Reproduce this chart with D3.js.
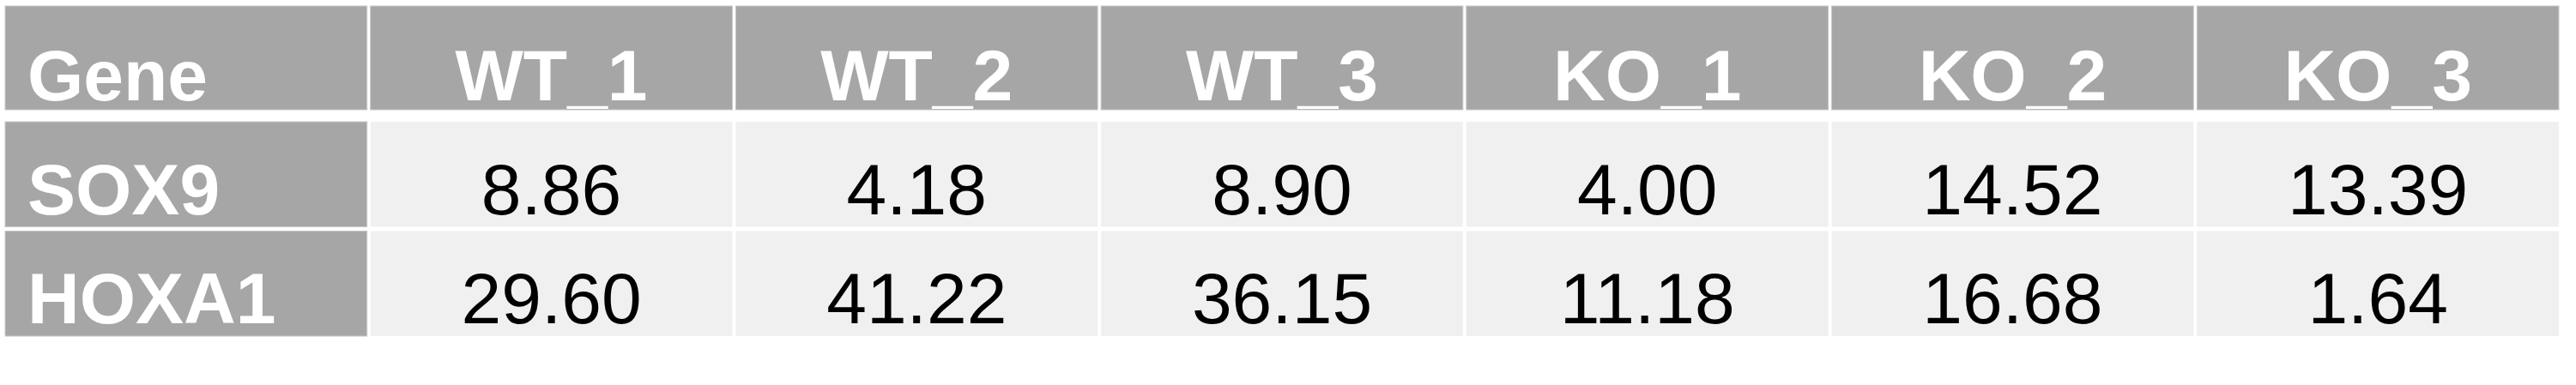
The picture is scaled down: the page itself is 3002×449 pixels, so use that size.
<!DOCTYPE html>
<html>
<head>
<meta charset="utf-8">
<script src="https://cdn.jsdelivr.net/npm/d3@7"></script>
<style>
  body { margin: 0; background: #fff; }
  text { font-family: "Liberation Sans", Arial, sans-serif; }
</style>
</head>
<body>
<svg id="chart"></svg>
<script>
const WIDTH = 3002;
const HEIGHT = 449;

// Table contents.
const headers = ['Gene', 'WT_1', 'WT_2', 'WT_3', 'KO_1', 'KO_2', 'KO_3'];
const genes = ['SOX9', 'HOXA1'];
const sox9Values = ['8.86', '4.18', '8.90', '4.00', '14.52', '13.39'];
const hoxa1Values = ['29.60', '41.22', '36.15', '11.18', '16.68', '1.64'];

const values = [sox9Values, hoxa1Values];

const HEADER_FILL = '#a6a6a6';
const CELL_FILL = '#f0f0f0';
const GAP = 4;

const svg = d3.select('#chart').attr('width', WIDTH).attr('height', HEIGHT);

// Columns across the whole table.
const xScale = d3.scaleBand()
  .domain(headers)
  .range([6, 2986])
  .paddingInner(0);

const colW = xScale.bandwidth() - GAP;

// Header row, then the gene rows.
const headerTop = 7, headerBottom = 128;
const yScale = d3.scaleBand()
  .domain(genes)
  .range([142, 397]);
const rowH = yScale.bandwidth() - 5;

// Header cells.
const head = svg.append('g').attr('class', 'header');
head.selectAll('rect')
  .data(headers)
  .join('rect')
  .attr('x', d => xScale(d))
  .attr('y', headerTop)
  .attr('width', colW)
  .attr('height', headerBottom - headerTop)
  .attr('fill', HEADER_FILL)
  .attr('stroke', '#c8c8c8')
  .attr('stroke-width', 1);

head.selectAll('text')
  .data(headers)
  .join('text')
  .attr('x', (d, i) => i === 0 ? xScale(d) + 26 : xScale(d) + colW / 2)
  .attr('y', 117)
  .attr('text-anchor', (d, i) => i === 0 ? 'start' : 'middle')
  .attr('font-size', 84)
  .attr('font-weight', 'bold')
  .attr('fill', '#fff')
  .text(d => d);

// Data rows.
const rows = svg.selectAll('.row')
  .data(genes)
  .join('g')
  .attr('class', 'row')
  .attr('transform', d => `translate(0, ${yScale(d)})`);

rows.append('rect')
  .attr('x', xScale(headers[0]))
  .attr('width', colW)
  .attr('height', rowH)
  .attr('fill', HEADER_FILL)
  .attr('stroke', '#c8c8c8');

rows.append('text')
  .attr('x', xScale(headers[0]) + 26)
  .attr('y', rowH - 15)
  .attr('font-size', 84)
  .attr('font-weight', 'bold')
  .attr('fill', '#fff')
  .text(d => d);

rows.each(function (gene, r) {
  const g = d3.select(this);
  const cells = headers.slice(1).map((h, i) => ({h, v: values[r][i]}));
  g.selectAll('rect.cell')
    .data(cells)
    .join('rect')
    .attr('class', 'cell')
    .attr('x', d => xScale(d.h))
    .attr('width', colW)
    .attr('height', rowH)
    .attr('fill', CELL_FILL);
  g.selectAll('text.val')
    .data(cells)
    .join('text')
    .attr('class', 'val')
    .attr('x', d => xScale(d.h) + colW / 2)
    .attr('y', rowH - 15)
    .attr('text-anchor', 'middle')
    .attr('font-size', 84)
    .attr('fill', '#000')
    .text(d => d.v);
});
</script>
</body>
</html>
